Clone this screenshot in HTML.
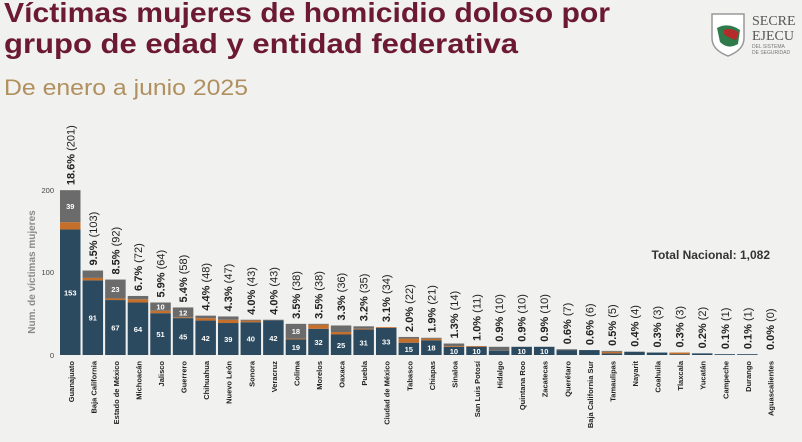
<!DOCTYPE html>
<html><head><meta charset="utf-8"><style>
html,body{margin:0;padding:0;background:#f1f1f0;}
svg{display:block;font-family:"Liberation Sans",sans-serif;}
</style></head><body>
<svg id="s" width="802" height="442" viewBox="0 0 802 442" xmlns="http://www.w3.org/2000/svg">
<rect width="802" height="442" fill="#f1f1f0"/>
<text x="4" y="22" font-size="28" font-weight="bold" fill="#6b1a32" textLength="606" lengthAdjust="spacingAndGlyphs">Víctimas mujeres de homicidio doloso por</text>
<text x="4" y="53" font-size="28" font-weight="bold" fill="#6b1a32" textLength="514" lengthAdjust="spacingAndGlyphs">grupo de edad y entidad federativa</text>
<text x="4" y="95" font-size="22" fill="#b0905e" textLength="244" lengthAdjust="spacingAndGlyphs">De enero a junio 2025</text>
<path d="M712 14 L744 14 L744 38 Q744 50 728 56 Q712 50 712 38 Z" fill="#fff" stroke="#999" stroke-width="1.5"/>
<path d="M717 28 Q728 22 740 30 L738 44 Q728 50 720 42 Z" fill="#2f7a4a"/>
<path d="M724 30 Q732 27 739 33 L736 40 Q728 38 724 34 Z" fill="#b52a2a"/>
<text x="752" y="25" font-family="Liberation Serif,serif" font-size="14" fill="#555">SECRE</text>
<text x="752" y="40" font-family="Liberation Serif,serif" font-size="14" fill="#555">EJECU</text>
<text x="752" y="48" font-size="5" fill="#777">DEL SISTEMA</text>
<text x="752" y="54" font-size="5" fill="#777">DE SEGURIDAD</text>
<text transform="translate(35,272) rotate(-90)" text-anchor="middle" font-size="10" font-weight="bold" fill="#8a8a8a">Num. de víctimas mujeres</text>
<text x="54" y="193" text-anchor="end" font-size="7.5" fill="#444">200</text>
<text x="54" y="275" text-anchor="end" font-size="7.5" fill="#444">100</text>
<text x="54" y="358" text-anchor="end" font-size="7.5" fill="#444">0</text>
<text x="770" y="259" text-anchor="end" font-size="12" font-weight="bold" fill="#333">Total Nacional: 1,082</text>
<g id="bars"></g>
</svg>
<script>
var d=[["Guanajuato",153,9,39,"18.6%"],["Baja California",91,3,9,"9.5%"],["Estado de México",67,2,23,"8.5%"],["Michoacán",64,4,4,"6.7%"],["Jalisco",51,3,10,"5.9%"],["Guerrero",45,1,12,"5.4%"],["Chihuahua",42,3,3,"4.4%"],["Nuevo León",39,4,4,"4.3%"],["Sonora",40,2,1,"4.0%"],["Veracruz",42,0,1,"4.0%"],["Colima",19,1,18,"3.5%"],["Morelos",32,5,1,"3.5%"],["Oaxaca",25,3,8,"3.3%"],["Puebla",31,1,3,"3.2%"],["Ciudad de México",33,1,0,"3.1%"],["Tabasco",15,5,2,"2.0%"],["Chiapas",18,2,1,"1.9%"],["Sinaloa",10,1,3,"1.3%"],["San Luis Potosí",10,1,0,"1.0%"],["Hidalgo",5,0,5,"0.9%"],["Quintana Roo",10,0,0,"0.9%"],["Zacatecas",10,0,0,"0.9%"],["Querétaro",6,0,1,"0.6%"],["Baja California Sur",6,0,0,"0.6%"],["Tamaulipas",2,2,1,"0.5%"],["Nayarit",4,0,0,"0.4%"],["Coahuila",3,0,0,"0.3%"],["Tlaxcala",1,2,0,"0.3%"],["Yucatán",2,0,0,"0.2%"],["Campeche",1,0,0,"0.1%"],["Durango",1,0,0,"0.1%"],["Aguascalientes",0,0,0,"0.0%"]];
var g=document.getElementById("bars"),h="",k=0.82,base=355;
d.forEach(function(r,i){
 var x=60+i*22.57,w=20.5,y=base,tot=r[1]+r[2]+r[3];
 [[r[1],"#2b4a5f"],[r[2],"#c56f2c"],[r[3],"#6b6b6b"]].forEach(function(s,j){
  if(s[0]>0){var hh=s[0]*k;y-=hh;h+='<rect x="'+x+'" y="'+y+'" width="'+w+'" height="'+hh+'" fill="'+s[1]+'"/>';
   if(hh>8&&!(j==0&&s[0]<5)){h+='<text x="'+(x+w/2)+'" y="'+(y+hh/2+3)+'" text-anchor="middle" font-size="7.5" font-weight="bold" fill="#fff">'+s[0]+'</text>';}}
 });
 var top=base-tot*k-5,cx=x+w/2+4;
 h+='<text transform="translate('+cx+','+top+') rotate(-90)" font-size="11" fill="#222"><tspan font-weight="bold">'+r[4]+'</tspan> ('+tot+')</text>';
 h+='<text transform="translate('+(cx-0.5)+',361) rotate(-90)" text-anchor="end" font-size="7.5" font-weight="bold" fill="#222">'+r[0]+'</text>';
});
g.innerHTML=h;
</script>
</body></html>
